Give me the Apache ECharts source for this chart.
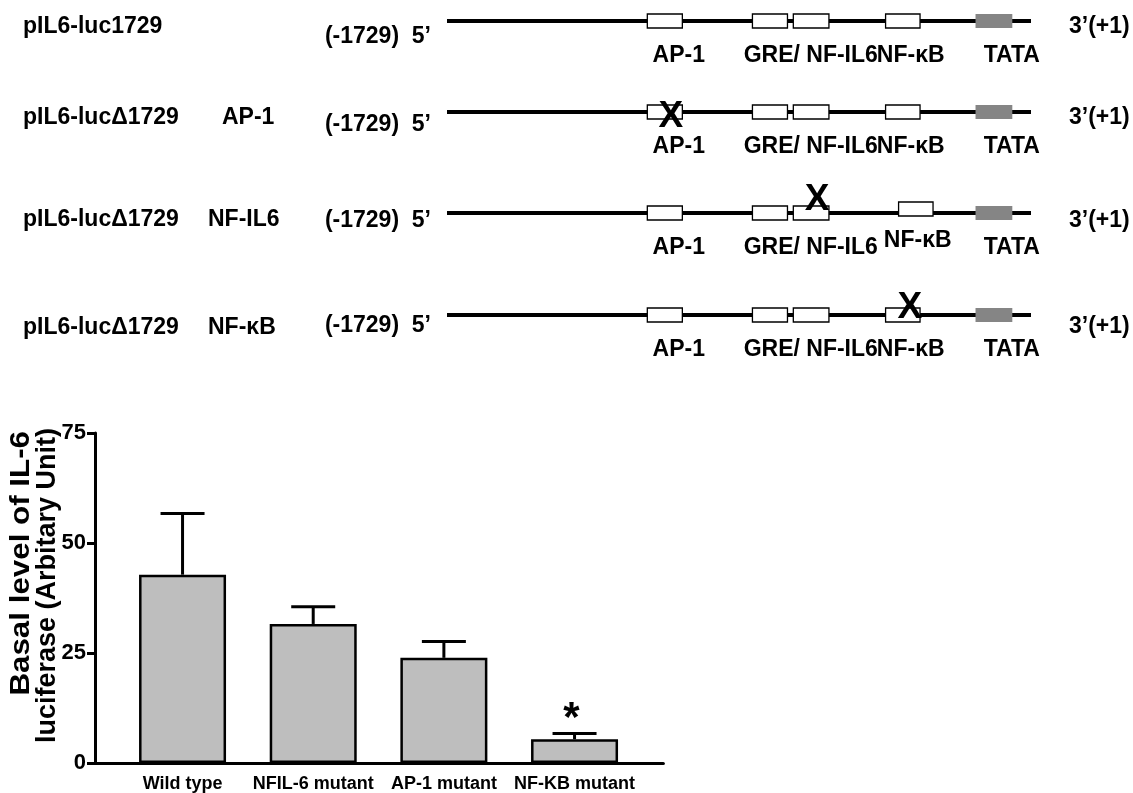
<!DOCTYPE html>
<html>
<head>
<meta charset="utf-8">
<script src="https://cdn.jsdelivr.net/npm/echarts@6/dist/echarts.min.js"></script>
<style>
html,body{margin:0;padding:0;background:#fff;}
#chart{width:1133px;height:793px;}
</style>
</head>
<body>
<div id="chart"></div>
<script>
// ---------- Data: promoter constructs (top schematic) ----------
const constructNames = ['pIL6-luc1729', 'pIL6-luc\u03941729', 'pIL6-luc\u03941729', 'pIL6-luc\u03941729'];
const constructMutations = ['', 'AP-1', 'NF-IL6', 'NF-\u03baB'];
const mutatedElement = [-1, 0, 2, 3];          // index into elementNames
const elementNames = ['AP-1', 'GRE', 'NF-IL6', 'NF-\u03baB', 'TATA'];
const elementStart = [34.3, 52.3, 59.3, 75.1, 90.5];   // schematic units, 0 = 5' end, 100 = 3' end
const elementEnd   = [40.3, 58.3, 65.4, 81.0, 96.8];
const siteLabels   = ['AP-1', 'GRE/ NF-IL6', 'NF-\u03baB', 'TATA'];
const siteLabelAt  = [35.2, 50.8, 73.6, 91.9];
const endLabels    = ['(-1729)  5\u2019', '3\u2019(+1)'];

// ---------- Data: bar chart ----------
const categories = ['Wild type', 'NFIL-6 mutant', 'AP-1 mutant', 'NF-KB mutant'];
const meanValues = [42.8, 31.6, 23.9, 5.4];
const errorValues = [13.9, 3.9, 3.7, 1.3];
const significance = ['', '', '', '*'];
const yTicks = [0, 25, 50, 75];
const yTitle = ['Basal level of IL-6', 'luciferase (Arbitary Unit)'];

const FONT = '"Liberation Sans", Arial, Helvetica, sans-serif';

// layout tweaks (pixel offsets)
const rowDy = [0, -7, -4, 0];
const nameDy = [6, 6, 7, 13];
const fiveDy = [16, 13, 8, 11];
const threeDy = [6, 6, 8, 12];
const mutX = [208, 222, 208, 208];
const xMarkOff = { 1: [6, 5], 2: [6, -13], 3: [7, -7] };

function txt(x, y, s, size, align, extra) {
  return Object.assign({
    type: 'text', x: x, y: y,
    style: { text: s, fill: '#000', fontSize: size, fontWeight: 'bold', fontFamily: FONT,
             align: align || 'left', verticalAlign: 'middle' }
  }, extra || {});
}

function renderConstruct(params, api) {
  const r = api.value(0);
  const p0 = api.coord([0, r]);
  const p1 = api.coord([100, r]);
  const y = p0[1] + rowDy[r];
  const ch = [];
  ch.push({ type: 'rect', shape: { x: p0[0], y: y - 2, width: p1[0] - p0[0], height: 4 }, style: { fill: '#000' } });
  const boxCenters = [];
  for (let j = 0; j < elementNames.length; j++) {
    let xs = api.coord([elementStart[j], r])[0];
    let xe = api.coord([elementEnd[j], r])[0];
    let dy = 0;
    if (r === 2 && j === 3) { xs += 13; xe += 13; dy = -4; }
    boxCenters.push([(xs + xe) / 2, y + dy]);
    const isTata = elementNames[j] === 'TATA';
    ch.push({
      type: 'rect', shape: { x: xs, y: y - 7 + dy, width: xe - xs, height: 14 },
      style: isTata ? { fill: '#858585' } : { fill: '#fff', stroke: '#000', lineWidth: 1.3 }
    });
  }
  for (let k = 0; k < siteLabels.length; k++) {
    let lx = api.coord([siteLabelAt[k], r])[0];
    let ly = y + 35;
    if (r === 2 && k === 2) { lx += 7; ly -= 7; }
    ch.push(txt(lx, ly, siteLabels[k], 23, 'left'));
  }
  // left labels
  ch.push(txt(23, y + nameDy[r], constructNames[r], 23, 'left'));
  if (constructMutations[r]) ch.push(txt(mutX[r], y + nameDy[r], constructMutations[r], 23, 'left'));
  ch.push(txt(p0[0] - 16, y + fiveDy[r], endLabels[0], 23, 'right'));
  ch.push(txt(1069, y + threeDy[r], endLabels[1], 23, 'left'));
  // mutation mark
  const m = mutatedElement[r];
  if (m >= 0) {
    const off = xMarkOff[r];
    ch.push(txt(boxCenters[m][0] + off[0], y + off[1], 'X', 37, 'center'));
  }
  return { type: 'group', children: ch };
}

function renderError(params, api) {
  const i = api.value(0), mean = api.value(1), err = api.value(2);
  const mark = significance[params.dataIndex];
  const pb = api.coord([i, mean]);
  const pt = api.coord([i, mean + err]);
  const ch = [
    { type: 'line', shape: { x1: pb[0], y1: pb[1], x2: pt[0], y2: pt[1] }, style: { stroke: '#000', lineWidth: 3 } },
    { type: 'line', shape: { x1: pt[0] - 22, y1: pt[1], x2: pt[0] + 22, y2: pt[1] }, style: { stroke: '#000', lineWidth: 3 } }
  ];
  if (mark) ch.push(txt(pt[0] - 3, pt[1] - 14, mark, 42, 'center'));
  return { type: 'group', children: ch };
}

const chart = echarts.init(document.getElementById('chart'), null, { renderer: 'canvas' });
chart.setOption({
  backgroundColor: '#fff',
  animation: false,
  grid: [
    { left: 447, width: 584, top: 21, height: 294, outerBoundsMode: 'none', containLabel: false },
    { left: 95, width: 568.4, top: 433, height: 330, outerBoundsMode: 'none', containLabel: false }
  ],
  xAxis: [
    { gridIndex: 0, type: 'value', min: 0, max: 100, show: false },
    {
      gridIndex: 1, type: 'value', min: -0.67, max: 3.68,
      axisLine: { show: true, onZero: false, lineStyle: { color: '#000', width: 3 } },
      axisTick: { show: false },
      splitLine: { show: false },
      axisLabel: {
        customValues: [0, 1, 2, 3],
        formatter: function (v) { return categories[Math.round(v)] || ''; },
        color: '#000', fontSize: 18, fontWeight: 'bold', fontFamily: FONT, margin: 12
      }
    }
  ],
  yAxis: [
    { gridIndex: 0, type: 'value', min: 0, max: 3, inverse: true, show: false },
    {
      gridIndex: 1, type: 'value', min: yTicks[0], max: yTicks[yTicks.length - 1], interval: 25,
      axisLine: { show: true, onZero: false, lineStyle: { color: '#000', width: 3 } },
      axisTick: { show: true, length: 8, lineStyle: { color: '#000', width: 3 } },
      splitLine: { show: false },
      axisLabel: { color: '#000', fontSize: 22, fontWeight: 'bold', fontFamily: FONT, margin: 9 }
    }
  ],
  graphic: [
    { type: 'text', x: 21.5, y: 431, rotation: Math.PI / 2, scaleX: 1.16,
      style: { text: yTitle[0], fill: '#000', fontSize: 27, fontWeight: 'bold', fontFamily: FONT, align: 'right', verticalAlign: 'middle' } },
    { type: 'text', x: 48, y: 428, rotation: Math.PI / 2,
      style: { text: yTitle[1], fill: '#000', fontSize: 27, fontWeight: 'bold', fontFamily: FONT, align: 'right', verticalAlign: 'middle' } }
  ],
  series: [
    {
      type: 'custom', xAxisIndex: 0, yAxisIndex: 0,
      data: constructNames.map(function (n, i) { return [i]; }),
      renderItem: renderConstruct, silent: true
    },
    {
      type: 'bar', xAxisIndex: 1, yAxisIndex: 1, barWidth: 87,
      data: meanValues.map(function (v, i) { return [i, v]; }),
      itemStyle: { color: '#bebebe', borderColor: '#000', borderWidth: 2.5 },
      z: 2
    },
    {
      type: 'custom', xAxisIndex: 1, yAxisIndex: 1, z: 3,
      data: meanValues.map(function (v, i) { return [i, v, errorValues[i]]; }),
      renderItem: renderError, silent: true
    }
  ]
});
</script>
</body>
</html>
